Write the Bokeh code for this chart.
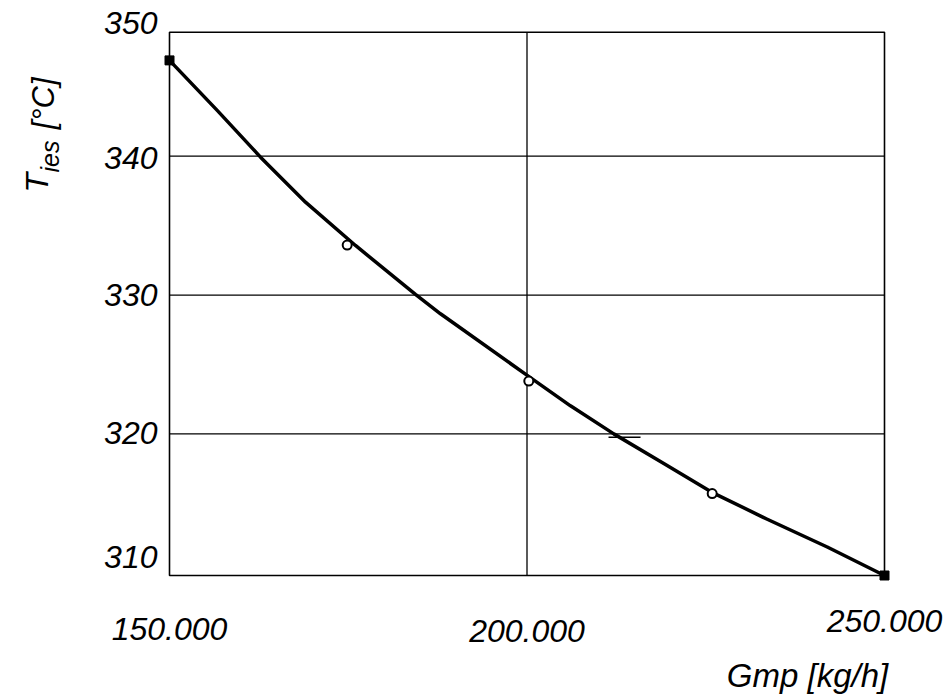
import math
from bokeh.plotting import figure
from bokeh.models import Range1d
from bokeh.core.properties import value
from bokeh.embed import file_html
from bokeh.resources import INLINE

# ---- data ----
curve_g = [150000, 156670, 162730, 169020, 176010, 184400, 187900, 199930,
           206080, 212140, 219130, 225800, 233600, 241990, 250000]
curve_t = [346.9, 343.3, 339.93, 336.69, 333.57, 330.04, 328.65, 324.25,
           322.02, 320.0, 317.86, 315.81, 313.85, 311.85, 309.8]
end_g = [150000, 250000]
end_t = [346.9, 309.8]
meas_g = [174850, 200250, 225900]
meas_t = [333.6, 323.8, 315.7]
mark_g = [213640]
mark_t = [319.76]

x_ticks = [150000, 200000, 250000]
x_tick_labels = ["150.000", "200.000", "250.000"]
y_ticks = [310, 320, 330, 340, 350]
y_tick_labels = ["310", "320", "330", "340", "350"]
x_grid = [200000]
y_grid = [320, 330, 340]
x_title = "Gmp [kg/h]"
y_title = ["T", "ies", "[°C]"]

# plotting box (data limits of the drawn frame)
x_lo, x_hi = 150000, 250000
y_lo, y_hi = 309.8, 348.93

# ---- layout (pixels) ----
W, H = 945, 698
box_left, box_right, box_top, box_bottom = 169, 884, 31.7, 575
sx = (x_hi - x_lo) / (box_right - box_left)
sy = (y_hi - y_lo) / (box_bottom - box_top)
x_start = x_lo - box_left * sx
y_end = y_hi + box_top * sy

FONT = value("Liberation Sans")

p = figure(width=W, height=H, output_backend="svg", toolbar_location=None,
           x_axis_location=None, y_axis_location=None, title=None,
           x_range=Range1d(x_start, x_start + W * sx),
           y_range=Range1d(y_end - H * sy, y_end),
           min_border=0)
p.outline_line_color = None
p.grid.visible = False
p.background_fill_color = "white"
p.border_fill_color = "white"

# grid lines and frame
p.segment(x0=x_grid, y0=[y_lo] * len(x_grid), x1=x_grid, y1=[y_hi] * len(x_grid),
          line_color="black", line_width=1.3)
p.segment(x0=[x_lo] * len(y_grid), y0=y_grid, x1=[x_hi] * len(y_grid), y1=y_grid,
          line_color="black", line_width=1.3)
p.quad(left=[x_lo], right=[x_hi], bottom=[y_lo], top=[y_hi], fill_color=None,
       line_color="black", line_width=1.6)

# curve and points
p.line(curve_g, curve_t, line_color="black", line_width=3.5, line_join="round")
p.scatter(end_g, end_t, marker="square", size=9, color="black")
p.scatter(meas_g, meas_t, marker="circle", size=9, line_color="black",
          line_width=2, fill_color="white")
p.scatter(mark_g, mark_t, marker="dash", size=32, line_color="black",
          line_width=1.5)

# y tick labels
y_dy = [-16, -1, 0, 2, 6]
p.text(x=[x_lo] * len(y_ticks), y=y_ticks, text=y_tick_labels,
       x_offset=-12, y_offset=y_dy, text_align="right", text_baseline="middle",
       text_font=FONT, text_font_style="italic", text_font_size="32px",
       text_color="black")

# x tick labels
x_dy = [53, 55, 45]
p.text(x=x_ticks, y=[y_lo] * len(x_ticks), text=x_tick_labels,
       x_offset=0, y_offset=x_dy, text_align="center", text_baseline="middle",
       text_font=FONT, text_font_style="italic", text_font_size="32px",
       text_color="black")

# x axis title
p.text(x=[x_hi], y=[y_lo], text=[x_title], x_offset=-77, y_offset=100,
       text_align="center", text_baseline="middle",
       text_font=FONT, text_font_style="italic", text_font_size="33px",
       text_color="black")

# y axis title (rotated), offsets relative to the 340 gridline at the frame's left edge
p.text(x=[x_lo] * 3, y=[340] * 3, text=y_title,
       x_offset=[36 - 169, 49 - 169, 43 - 169],
       y_offset=[192 - 155.7, 172 - 155.7, 129 - 155.7],
       angle=math.pi / 2, text_align="left", text_baseline="alphabetic",
       text_font=FONT, text_font_style="italic",
       text_font_size=["32px", "25px", "31px"], text_color="black")

open("out.html", "w").write(file_html(p, INLINE))
